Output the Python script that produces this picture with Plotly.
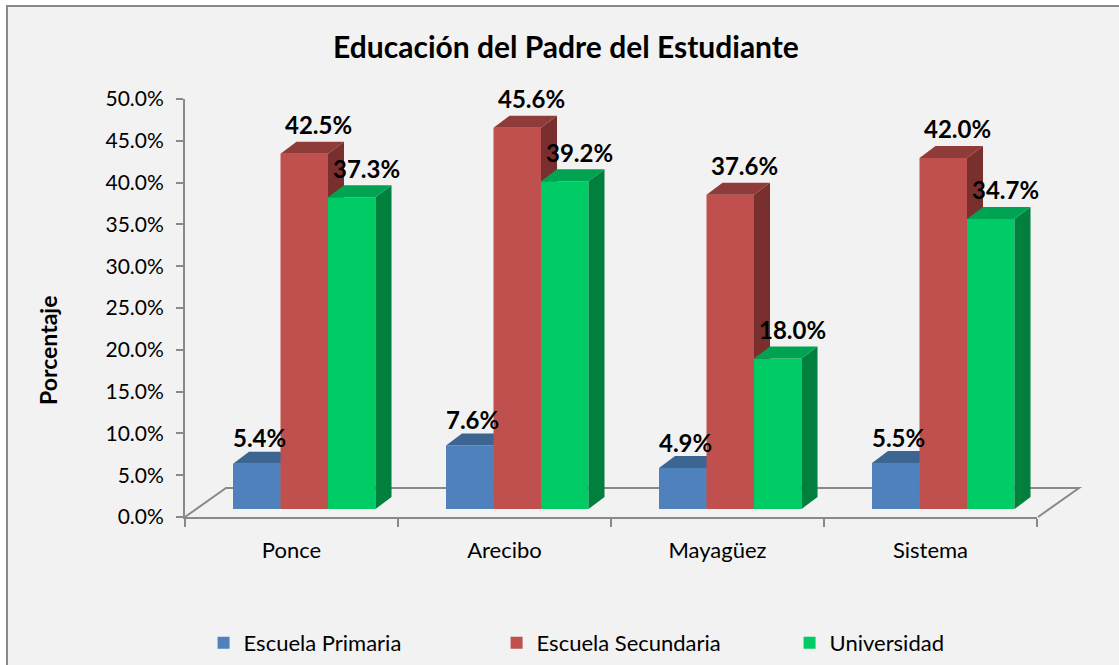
import plotly.graph_objects as go

# ---------------- data ----------------
categories = ["Ponce", "Arecibo", "Mayagüez", "Sistema"]
series_names = ["Escuela Primaria", "Escuela Secundaria", "Universidad"]
primaria = [5.4, 7.6, 4.9, 5.5]
secundaria = [42.5, 45.6, 37.6, 42.0]
universidad = [37.3, 39.2, 18.0, 34.7]
y_ticks = [0, 5, 10, 15, 20, 25, 30, 35, 40, 45, 50]

# ---------------- styling ----------------
W, H = 1119, 665
L, R, T, B = 185, 82, 99, 148
PW, PH = W - L - R, H - T - B
FONT = "Lato"
GREY = "#898989"

front_cols = ["#4F81BD", "#C0504D", "#00CC66"]
top_cols = ["#3D6592", "#8F3B39", "#00A352"]
side_cols = ["#30507A", "#782F2D", "#007F3D"]
offsets = [-0.2746, -0.0516, 0.1714]
bar_w = 0.223
dx = 16 / (PW / 4)          # depth shift in x units
px_per_unit = PH / 50
dy = 12 / px_per_unit       # depth shift in y units
y2_shift = 8 / px_per_unit  # front face baseline sits above the floor edge
label_xshift = [3, 14, 15]
label_yshift = [26, 29, 29]


def pxx(x):
    return (x - L) / PW


def pyy(y):
    return (H - B - y) / PH


fig = go.Figure()
# empty trace so the ticked primary axes are drawn
fig.add_trace(go.Scatter(x=[None], y=[None], mode="markers", showlegend=False,
                         hoverinfo="skip"))

series = [primaria, secundaria, universidad]
axes = ["y2", "y3", "y4"]
xs = list(range(len(categories)))

for s, vals in enumerate(series):
    ax = axes[s]
    fig.add_trace(go.Bar(
        x=xs, y=vals, name=series_names[s], yaxis=ax,
        offset=offsets[s], width=bar_w,
        marker=dict(color=front_cols[s], line=dict(width=0)),
        hoverinfo="skip", showlegend=True,
    ))
    tx, ty, sx, sy = [], [], [], []
    for i, v in enumerate(vals):
        x0 = i + offsets[s]
        x1 = x0 + bar_w
        tx += [x0, x1, x1 + dx, x0 + dx, x0, None]
        ty += [v, v, v + dy, v + dy, v, None]
        sx += [x1, x1, x1 + dx, x1 + dx, x1, None]
        sy += [0, v, v + dy, dy, 0, None]
    fig.add_trace(go.Scatter(x=sx, y=sy, yaxis=ax, mode="lines", fill="toself",
                             fillcolor=side_cols[s], line=dict(width=0),
                             hoverinfo="skip", showlegend=False))
    fig.add_trace(go.Scatter(x=tx, y=ty, yaxis=ax, mode="lines", fill="toself",
                             fillcolor=top_cols[s], line=dict(width=0),
                             hoverinfo="skip", showlegend=False))

annotations = []
for s, vals in enumerate(series):
    for i, v in enumerate(vals):
        annotations.append(dict(
            x=i + offsets[s] + bar_w / 2, y=v, xref="x", yref=axes[s],
            text=f"<b>{v:.1f}%</b>", showarrow=False,
            xshift=label_xshift[s], yshift=label_yshift[s],
            font=dict(family=FONT, size=24, color="black"),
        ))

annotations.append(dict(
    x=pxx(32), y=pyy(351), xref="paper", yref="paper",
    text="<b>Porcentaje</b>", textangle=-90, showarrow=False,
    font=dict(family=FONT, size=23, color="black"),
))

shapes = [
    # chart area background with border (top/left visible)
    dict(type="rect", xref="paper", yref="paper",
         x0=pxx(7), y0=pyy(H + 20), x1=pxx(W + 20), y1=pyy(6),
         line=dict(color=GREY, width=2), fillcolor="#F2F2F2", layer="below"),
    # floor
    dict(type="path", xref="paper", yref="paper",
         path=f"M {pxx(185)} {pyy(517)} L {pxx(226)} {pyy(488)} L {pxx(1079)} {pyy(488)} L {pxx(1038)} {pyy(517)}",
         line=dict(color=GREY, width=2), layer="below"),
]

layout_axes = dict(
    xaxis=dict(range=[-0.5, 3.5], tickmode="array", tickvals=xs, ticktext=categories,
               ticks="", showline=True, linecolor=GREY, linewidth=2, showgrid=False,
               zeroline=False, ticklabelstandoff=13,
               tickfont=dict(family=FONT, size=22, color="black"),
               minor=dict(tickmode="array", tickvals=[-0.5, 0.5, 1.5, 2.5, 3.5],
                          ticks="outside", ticklen=8, tickcolor=GREY, tickwidth=2,
                          showgrid=False)),
    yaxis=dict(range=[0, 50], tickmode="array", tickvals=y_ticks,
               ticktext=[f"{t:.1f}%" for t in y_ticks], ticks="outside", ticklen=7,
               tickcolor=GREY, tickwidth=2, showline=True, linecolor=GREY, linewidth=2,
               showgrid=False, zeroline=False, ticklabelstandoff=8,
               tickfont=dict(family=FONT, size=21, color="black")),
)
for ax in ["yaxis2", "yaxis3", "yaxis4"]:
    layout_axes[ax] = dict(range=[-y2_shift, 50 - y2_shift], overlaying="y", visible=False,
                           showgrid=False, zeroline=False)

fig.update_layout(
    width=W, height=H,
    margin=dict(l=L, r=R, t=T, b=B, autoexpand=False),
    paper_bgcolor="white", plot_bgcolor="rgba(0,0,0,0)",
    title=dict(text="<b>Educación del Padre del Estudiante</b>", x=566 / W, y=1 - 47 / H,
               xanchor="center", yanchor="middle",
               font=dict(family=FONT, size=30, color="black")),
    legend=dict(orientation="h", x=-0.0005, y=pyy(643), xanchor="left", yanchor="middle",
                xref="paper", yref="paper", entrywidth=229, entrywidthmode="pixels",
                indentation=19,
                font=dict(family=FONT, size=22, color="black"), bgcolor="rgba(0,0,0,0)",
                traceorder="normal"),
    barmode="overlay",
    annotations=annotations,
    shapes=shapes,
    hovermode=False,
    **layout_axes,
)

fig.write_html("out.html", config={"displayModeBar": False},
               post_script="document.body.style.margin='0px';")
